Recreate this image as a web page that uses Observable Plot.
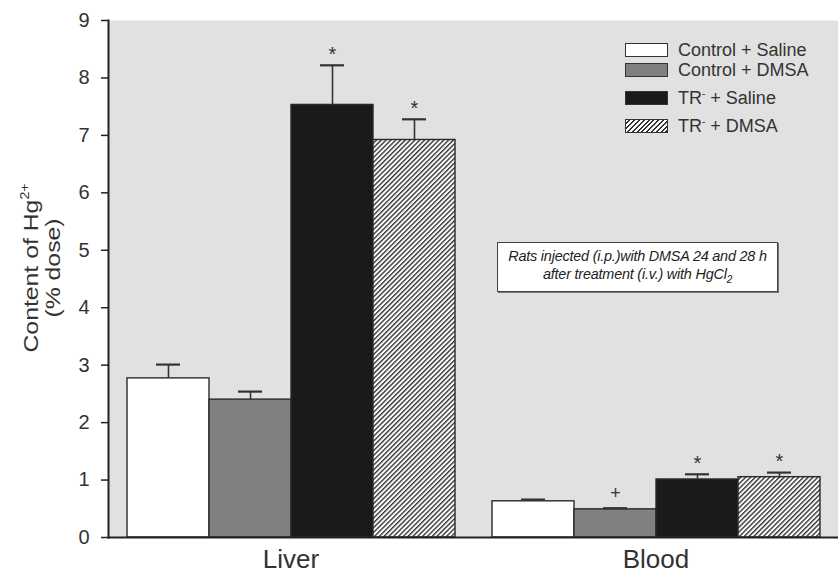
<!DOCTYPE html>
<html>
<head>
<meta charset="utf-8">
<script src="https://cdn.jsdelivr.net/npm/d3@7"></script>
<script src="https://cdn.jsdelivr.net/npm/@observablehq/plot@0.6"></script>
<style>
  html, body { margin: 0; padding: 0; background: #fff; }
  body { font-family: "Liberation Sans", Arial, sans-serif; }
  #wrap { position: relative; width: 838px; height: 574px; overflow: hidden; }
  #legend { position: absolute; left: 625px; top: 43px; }
  .row { position: absolute; left: 0; height: 16px; white-space: nowrap; }
  .sw { position: absolute; left: 0; width: 41px; height: 12px; border: 1.5px solid #333; }
  .lab { position: absolute; left: 53px; top: -3px; font-size: 18px; color: #333; line-height: 21px; }
  .lab sup { font-size: 10px; vertical-align: 7px; line-height: 0; }
  #note { position: absolute; left: 497px; top: 242px; width: 279px; height: 44px; border: 1.5px solid #444;
          background: #fff; box-shadow: 1px 1px 0 #777; font-style: italic; font-size: 14.4px; color: #222;
          text-align: center; line-height: 18px; padding-top: 4px; box-sizing: content-box; letter-spacing: -0.2px; }
  #note sub { font-size: 10px; line-height: 0; }
  #ylab { position: absolute; left: 42px; top: 268px; transform: translate(-50%, -50%) rotate(-90deg) scaleX(1.18);
          white-space: nowrap; text-align: center; font-size: 21px; color: #333; line-height: 22px; }
  #ylab sup { font-size: 12px; vertical-align: 9px; line-height: 0; }
</style>
</head>
<body>
<div id="wrap"></div>
<script>
// ---- data ----
const organs = ["Liver", "Blood"];
const groups = ["Control + Saline", "Control + DMSA", "TR- + Saline", "TR- + DMSA"];
const groupLabels = ["Control + Saline", "Control + DMSA", "TR<sup>-</sup> + Saline", "TR<sup>-</sup> + DMSA"];
const liverMeans = [2.77, 2.40, 7.53, 6.92];
const liverErr   = [0.24, 0.14, 0.69, 0.36];
const bloodMeans = [0.63, 0.49, 1.01, 1.05];
const bloodErr   = [0.03, 0.02, 0.09, 0.08];
const liverSig = ["", "", "*", "*"];
const bloodSig = ["", "+", "*", "*"];
const yTicks = [0, 1, 2, 3, 4, 5, 6, 7, 8, 9];
const fills = ["#ffffff", "#808080", "#1a1a1a", "url(#hatch)"];
const legendFills = ["#ffffff", "#808080", "#1a1a1a",
  "repeating-linear-gradient(135deg, #fff 0 2px, #333 2px 3.4px)"];

const rows = [];
groups.forEach((g, i) => rows.push({organ: "Liver", group: g, value: liverMeans[i], err: liverErr[i], sig: liverSig[i]}));
groups.forEach((g, i) => rows.push({organ: "Blood", group: g, value: bloodMeans[i], err: bloodErr[i], sig: bloodSig[i]}));
const errTop = d => d.value + d.err;

const chart = Plot.plot({
  width: 838,
  height: 574,
  marginLeft: 107,
  marginRight: 0,
  marginTop: 20,
  marginBottom: 37,
  style: {fontFamily: "'Liberation Sans', Arial, sans-serif", color: "#222", background: "transparent"},
  fx: {domain: organs, paddingInner: 0, paddingOuter: 0, label: null},
  x: {domain: groups, paddingInner: 0, paddingOuter: 0.2185, axis: null},
  y: {domain: [0, 9], axis: null},
  color: {type: "ordinal", domain: groups, range: fills},
  marks: [
    Plot.frame({fill: "#e1e1e1", stroke: "none", facet: "super"}),
    Plot.barY(rows, {fx: "organ", x: "group", y: "value", fill: "group", stroke: "#2a2a2a", strokeWidth: 1.4}),
    Plot.ruleX(rows, {fx: "organ", x: "group", y1: "value", y2: errTop, stroke: "#333", strokeWidth: 1.6}),
    Plot.tickY(rows, {fx: "organ", x: "group", y: errTop, stroke: "#333", strokeWidth: 2.2, insetLeft: 29, insetRight: 29}),
    Plot.text(rows.filter(d => d.sig === "*"), {fx: "organ", x: "group", y: errTop, text: "sig", dy: -11, fontSize: 20, fill: "#333"}),
    Plot.text(rows.filter(d => d.sig === "+"), {fx: "organ", x: "group", y: errTop, text: "sig", dy: -15, fontSize: 18, fill: "#333"}),
    Plot.frame({anchor: "left", stroke: "#222", strokeWidth: 2, facet: "super"}),
    Plot.frame({anchor: "bottom", stroke: "#222", strokeWidth: 2, facet: "super"}),
    Plot.axisY(yTicks, {anchor: "left", tickSize: 7, tickPadding: 12, fontSize: 20, stroke: "#222", strokeWidth: 1.5, fill: "#333", label: null, tickFormat: d => String(d)}),
    Plot.axisFx({anchor: "bottom", tickSize: 0, tickPadding: 12, fontSize: 26, fill: "#333", label: null})
  ]
});

// hatch pattern
const ns = "http://www.w3.org/2000/svg";
const defs = document.createElementNS(ns, "defs");
defs.innerHTML = `<pattern id="hatch" patternUnits="userSpaceOnUse" width="3.4" height="3.4" patternTransform="rotate(45)">
  <rect width="3.4" height="3.4" fill="#fff"/><line x1="0.7" y1="0" x2="0.7" y2="3.4" stroke="#333" stroke-width="1.4"/></pattern>`;
chart.insertBefore(defs, chart.firstChild);

const wrap = document.getElementById("wrap");
wrap.appendChild(chart);

// legend
const legend = document.createElement("div");
legend.id = "legend";
const rowTops = [0, 20, 48, 76];
groups.forEach((g, i) => {
  const r = document.createElement("div");
  r.className = "row";
  r.style.top = rowTops[i] + "px";
  r.innerHTML = `<div class="sw" style="background:${legendFills[i]}"></div><div class="lab">${groupLabels[i]}</div>`;
  legend.appendChild(r);
});
wrap.appendChild(legend);

// annotation
const note = document.createElement("div");
note.id = "note";
note.innerHTML = "Rats injected (i.p.)with DMSA 24 and 28 h<br>after treatment (i.v.) with HgCl<sub>2</sub>";
wrap.appendChild(note);

// y label
const ylab = document.createElement("div");
ylab.id = "ylab";
ylab.innerHTML = "Content of Hg<sup>2+</sup><br>(% dose)";
wrap.appendChild(ylab);
</script>
</body>
</html>
